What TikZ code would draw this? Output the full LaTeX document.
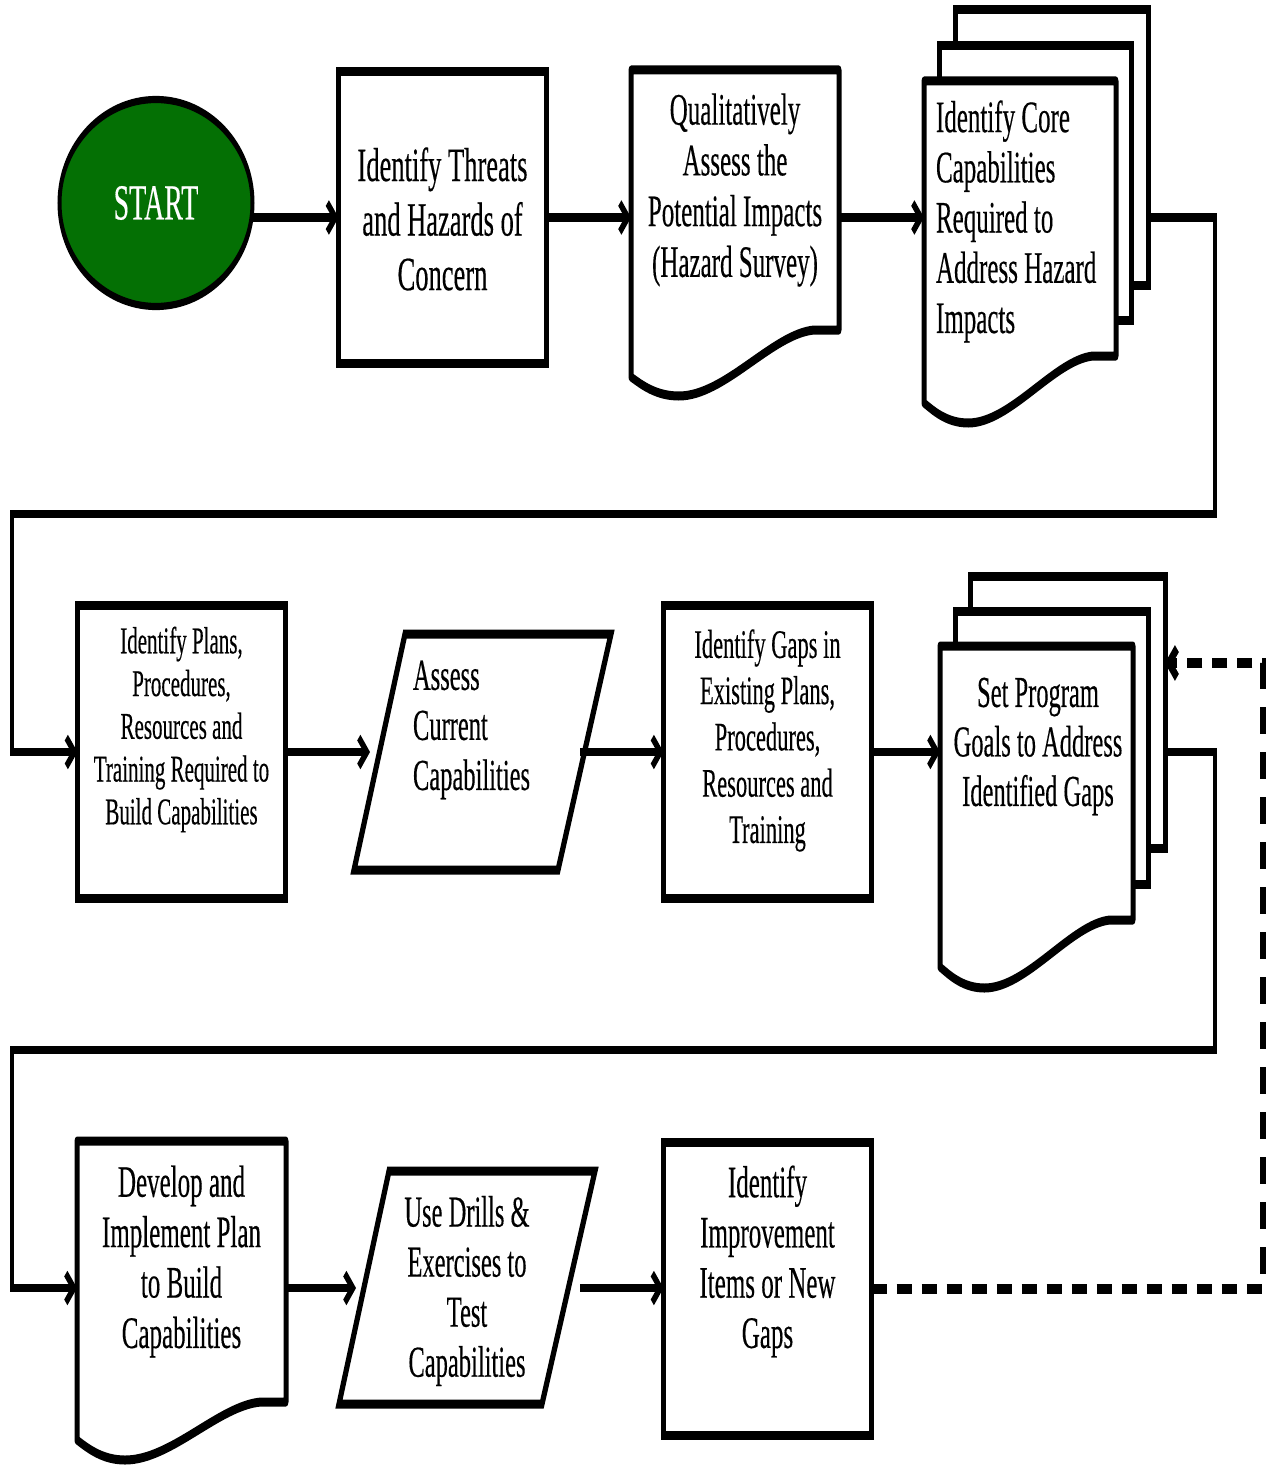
\documentclass[tikz,border=0pt]{standalone}
\usepackage{fontspec}
\setmainfont{Liberation Serif}[FakeBold=0.4]
\usetikzlibrary{arrows.meta,shapes.geometric}
\definecolor{startgreen}{RGB}{4,112,4}
\tikzset{
  boxline/.style={line width=5pt, draw=black, fill=white},
  rectbox/.style={boxline, rectangle, inner sep=0pt, outer sep=0pt, minimum width=208pt},
  anchorbox/.style={rectangle, draw=none, inner sep=0pt, outer sep=0pt, minimum height=1pt},
  pagebox/.style={boxline, rectangle, inner sep=0pt, outer sep=0pt},
  startnode/.style={ellipse, draw=black, line width=4pt, fill=startgreen, minimum width=193pt, minimum height=115pt, inner sep=0pt, outer sep=0pt, text=white, font=\fontsize{28}{32}\selectfont},
  lbl/.style={inner sep=0pt, outer sep=0pt, text=black},
  conn/.style={line width=4.5pt, draw=black},
  flow/.style={conn, -{Straight Barb[length=8pt,width=16pt]}},
  loopback/.style={flow, line width=5.5pt, dash pattern=on 15pt off 10pt},
}
\newcommand{\docoutline}[6]{%
  \pgfmathsetmacro{\docW}{#2-#1}%
  \draw[boxline, line join=round] (#1,#3) -- (#2,#3) -- (#2,#4) -- ({#2-0.12*\docW},#4)
    .. controls ({#2-0.32*\docW},{#4+0.06*(#6-#4)}) and ({#1+0.45*\docW},#6) .. ({#1+0.23*\docW},#6)
    .. controls ({#1+0.12*\docW},#6) and ({#1+0.05*\docW},{#5+0.4*(#6-#5)}) .. (#1,#5) -- cycle;}
\begin{document}
\begin{tikzpicture}[x=1pt,y=-1pt]
\path[use as bounding box, fill=white] (0,0) rectangle (1271,1466);
\begin{scope}[y=-0.555556pt, transform canvas={yscale=1.8}]
% ---------- row 1 ----------
\node[startnode] (start) at (156,203) {START};
\node[rectbox, minimum height=162.2pt] (b1) at (442.5,217.5) {};
\node[lbl, align=center, font=\fontsize{26.5}{30.3}\selectfont] (t1) at (442.5,219)
  {Identify Threats\\and Hazards of\\Concern};
\docoutline{631}{839}{70}{330}{377}{396}
\node[anchorbox, minimum width=208pt] (d2) at (735,216) {};
\node[lbl, align=center, font=\fontsize{25}{28.2}\selectfont] (t2) at (735,190)
  {Qualitatively\\Assess the\\Potential Impacts\\(Hazard Survey)};
\node[pagebox, minimum width=193pt, minimum height=152.8pt] (d3b) at (1051.5,147.5) {};
\node[pagebox, minimum width=192pt, minimum height=153.3pt] (d3m) at (1035,183) {};
\docoutline{924}{1116}{81}{356}{403}{423}
\node[anchorbox, minimum width=192pt] (d3) at (1020,216) {};
\node[lbl, align=left, anchor=west, font=\fontsize{25}{27.9}\selectfont] (t3) at (936,221.5)
  {Identify Core\\Capabilities\\Required to\\Address Hazard\\Impacts};
% ---------- row 2 ----------
\node[rectbox, minimum height=162.8pt] (b4) at (181.5,752) {};
\node[lbl, align=center, font=\fontsize{21}{23.75}\selectfont] (t4) at (181.5,729.5)
  {Identify Plans,\\Procedures,\\Resources and\\Training Required to\\Build Capabilities};
\draw[boxline] (405,634) -- (611,634) -- (558,870) -- (354,870) -- cycle;
\node[anchorbox, minimum width=210pt] (p5) at (475,751) {};
\node[lbl, align=left, anchor=west, font=\fontsize{24.5}{27.8}\selectfont] (t5) at (413,730)
  {Assess\\Current\\Capabilities};
\node[rectbox, minimum height=162.8pt] (b6) at (767.5,752) {};
\node[lbl, align=center, font=\fontsize{22.5}{25.7}\selectfont] (t6) at (767.5,740.5)
  {Identify Gaps in\\Existing Plans,\\Procedures,\\Resources and\\Training};
\node[pagebox, minimum width=195pt, minimum height=151.1pt] (d7b) at (1067.5,712) {};
\node[pagebox, minimum width=193pt, minimum height=152.2pt] (d7m) at (1051.5,748) {};
\docoutline{940}{1133}{646}{920}{967}{988}
\node[anchorbox, minimum width=193pt] (d7) at (1036.5,751) {};
\node[lbl, align=center, font=\fontsize{24.5}{27.5}\selectfont] (t7) at (1038,746.5)
  {Set Program\\Goals to Address\\Identified Gaps};
% ---------- row 3 ----------
\docoutline{77}{286}{1141}{1402}{1440}{1460}
\node[anchorbox, minimum width=209pt] (d8) at (181.5,1288) {};
\node[lbl, align=center, font=\fontsize{25}{28}\selectfont] (t8) at (181.5,1261.5)
  {Develop and\\Implement Plan\\to Build\\Capabilities};
\draw[boxline] (389,1171) -- (595,1171) -- (542,1404) -- (339,1404) -- cycle;
\node[anchorbox, minimum width=224pt] (p9) at (468,1288) {};
\node[lbl, align=center, font=\fontsize{24.5}{27.8}\selectfont] (t9) at (467,1291)
  {Use Drills \&\\Exercises to\\Test\\Capabilities};
\node[rectbox, minimum height=162.8pt] (b10) at (767.5,1289) {};
\node[lbl, align=center, font=\fontsize{25}{27.9}\selectfont] (t10) at (767.5,1261.5)
  {Identify\\Improvement\\Items or New\\Gaps};
% ---------- connectors ----------
\coordinate (rc1) at (1215,514);
\coordinate (lc1) at (12,514);
\coordinate (rc2) at (1215,1050);
\coordinate (lc2) at (12,1050);
\coordinate (dc) at (1263,663);
\draw[flow] (start.east |- b1.west) -- (b1.west);
\draw[flow] (b1.east) -- (d2.west |- b1.east);
\draw[flow] (d2.east |- b1.east) -- (d3.west |- b1.east);
\draw[flow] (d3b.east |- b1.east) -| (rc1) -- (lc1) |- (b4.west);
\draw[flow] (b4.east) -- (p5.west |- b4.east);
\draw[flow] (p5.east |- b4.east) -- (b6.west);
\draw[flow] (b6.east) -- (d7.west |- b6.east);
\draw[flow] (d7b.east |- b6.east) -| (rc2) -- (lc2) |- (d8.west);
\draw[flow] (d8.east) -- (p9.west);
\draw[flow] (p9.east) -- (b10.west |- p9.east);
\draw[loopback] (b10.east) -| (dc) -- (d7b.east |- dc);
\end{scope}
\end{tikzpicture}
\end{document}
